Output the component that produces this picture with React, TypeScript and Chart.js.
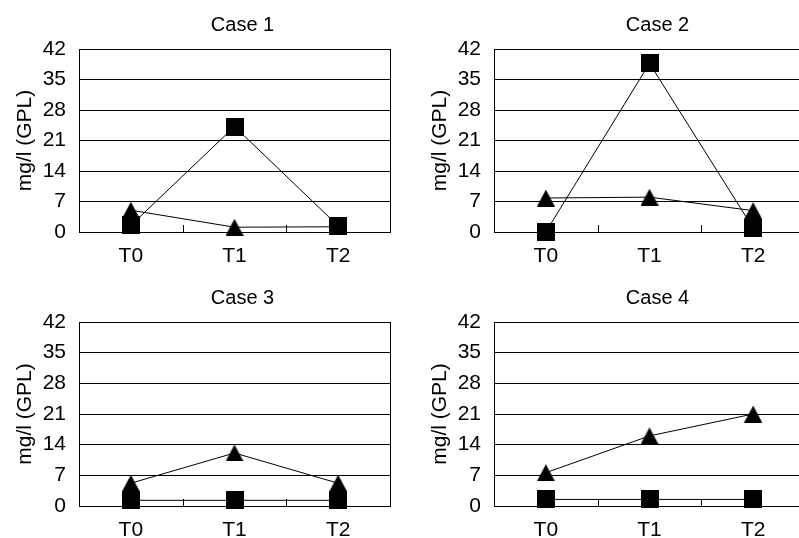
import React, { useEffect, useRef } from "react";
import { Chart, registerables } from "chart.js";

Chart.register(...registerables);

// ---- data ----
const categories = ["T0", "T1", "T2"];
const yTicks = [0, 7, 14, 21, 28, 35, 42];
const yAxisLabel = "mg/l (GPL)";
const caseTitles = ["Case 1", "Case 2", "Case 3", "Case 4"];

const squareSeries1 = [1.5, 24.2, 1.4];
const triangleSeries1 = [5.0, 1.1, 1.2];

const squareSeries2 = [0, 38.7, 0.9];
const triangleSeries2 = [7.8, 8.0, 4.9];

const squareSeries3 = [1.3, 1.3, 1.3];
const triangleSeries3 = [5.2, 12.1, 5.2];

const squareSeries4 = [1.5, 1.5, 1.5];
const triangleSeries4 = [7.6, 16.0, 21.0];

const FONT_FAMILY = '"Liberation Sans", Arial, Helvetica, sans-serif';

function makeSquare(): HTMLCanvasElement {
  const c = document.createElement("canvas");
  c.width = 18;
  c.height = 18;
  const ctx = c.getContext("2d")!;
  ctx.fillStyle = "#000";
  ctx.fillRect(0, 0, 18, 18);
  return c;
}

function makeTriangle(): HTMLCanvasElement {
  const c = document.createElement("canvas");
  c.width = 18;
  c.height = 17;
  const ctx = c.getContext("2d")!;
  ctx.fillStyle = "#000";
  ctx.beginPath();
  ctx.moveTo(9, 0);
  ctx.lineTo(18, 17);
  ctx.lineTo(0, 17);
  ctx.closePath();
  ctx.fill();
  return c;
}

const framePlugin = {
  id: "framePlugin",
  afterDraw(chart: any, _args: any, opts: any) {
    const { ctx, chartArea } = chart;
    const { left, right, top, bottom } = chartArea;
    const xs = chart.scales.x;
    ctx.save();
    ctx.strokeStyle = "#000";
    ctx.lineWidth = 1;
    // right border
    ctx.beginPath();
    const rx = Math.round(right) + 0.5;
    ctx.moveTo(rx, top);
    ctx.lineTo(rx, bottom);
    ctx.stroke();
    // inner tick marks between categories
    for (let i = 1; i < categories.length; i++) {
      const px = (xs.getPixelForValue(i - 1) + xs.getPixelForValue(i)) / 2;
      const ax = Math.round(px) + 0.5;
      ctx.beginPath();
      ctx.moveTo(ax, bottom - 7);
      ctx.lineTo(ax, bottom);
      ctx.stroke();
    }
    // title
    ctx.fillStyle = "#000";
    ctx.font = `20px ${FONT_FAMILY}`;
    ctx.textAlign = "center";
    ctx.textBaseline = "alphabetic";
    ctx.fillText(opts.text || "", (left + right) / 2 + 8, top - 18);
    ctx.restore();
  },
};

interface PanelProps {
  title: string;
  squares: number[];
  triangles: number[];
  left: number;
  top: number;
  height: number;
}

function Panel({ title, squares, triangles, left, top, height }: PanelProps) {
  const ref = useRef<HTMLCanvasElement>(null);
  useEffect(() => {
    const canvas = ref.current;
    if (!canvas) return;
    const sq = makeSquare();
    const tri = makeTriangle();
    const font = { family: FONT_FAMILY, size: 21 };
    const chart = new Chart(canvas, {
      type: "line",
      data: {
        labels: categories,
        datasets: [
          {
            data: triangles,
            borderColor: "#000",
            borderWidth: 1,
            backgroundColor: "#000",
            pointStyle: tri as any,
            pointRadius: 9,
            pointHoverRadius: 9,
            pointBackgroundColor: "#000",
            pointBorderColor: "#000",
            tension: 0,
            fill: false,
            clip: false as any,
          },
          {
            data: squares,
            borderColor: "#000",
            borderWidth: 1,
            backgroundColor: "#000",
            pointStyle: sq as any,
            pointRadius: 9,
            pointHoverRadius: 9,
            pointBackgroundColor: "#000",
            pointBorderColor: "#000",
            tension: 0,
            fill: false,
            clip: false as any,
          },
        ],
      },
      options: {
        responsive: false,
        animation: false,
        events: [],
        layout: { padding: { top: 49, right: 9, left: 0, bottom: 0 } },
        plugins: {
          legend: { display: false },
          tooltip: { enabled: false },
          title: { display: false },
          framePlugin: { text: title },
        } as any,
        scales: {
          x: {
            type: "category",
            offset: true,
            grid: { display: true, drawOnChartArea: false, drawTicks: false },
            border: { display: true, color: "#000", width: 1 },
            ticks: { color: "#000", font, padding: 12 },
            afterFit: (s: any) => {
              s.height = 38;
            },
          },
          y: {
            min: yTicks[0],
            max: yTicks[yTicks.length - 1],
            ticks: {
              stepSize: yTicks[1] - yTicks[0],
              color: "#000",
              font,
              padding: 13,
            },
            grid: { color: "#000", lineWidth: 1, drawTicks: false },
            border: { display: true, color: "#000", width: 1 },
            title: {
              display: true,
              text: yAxisLabel,
              color: "#000",
              font,
              padding: { top: 13, bottom: 0 },
            },
            afterFit: (s: any) => {
              s.width = 79;
            },
          },
        },
      },
      plugins: [framePlugin],
    });
    return () => chart.destroy();
  }, [title, squares, triangles]);
  return (
    <canvas
      ref={ref}
      width={400}
      height={height}
      style={{ position: "absolute", left, top, width: 400, height }}
    />
  );
}

export default function App() {
  return (
    <div
      style={{
        position: "absolute",
        left: 0,
        top: 0,
        width: 799,
        height: 538,
        overflow: "hidden",
        background: "#fff",
      }}
    >
      <Panel title={caseTitles[0]} squares={squareSeries1} triangles={triangleSeries1} left={0} top={0} height={270} />
      <Panel title={caseTitles[1]} squares={squareSeries2} triangles={triangleSeries2} left={415} top={0} height={270} />
      <Panel title={caseTitles[2]} squares={squareSeries3} triangles={triangleSeries3} left={0} top={273} height={271} />
      <Panel title={caseTitles[3]} squares={squareSeries4} triangles={triangleSeries4} left={415} top={273} height={271} />
    </div>
  );
}
